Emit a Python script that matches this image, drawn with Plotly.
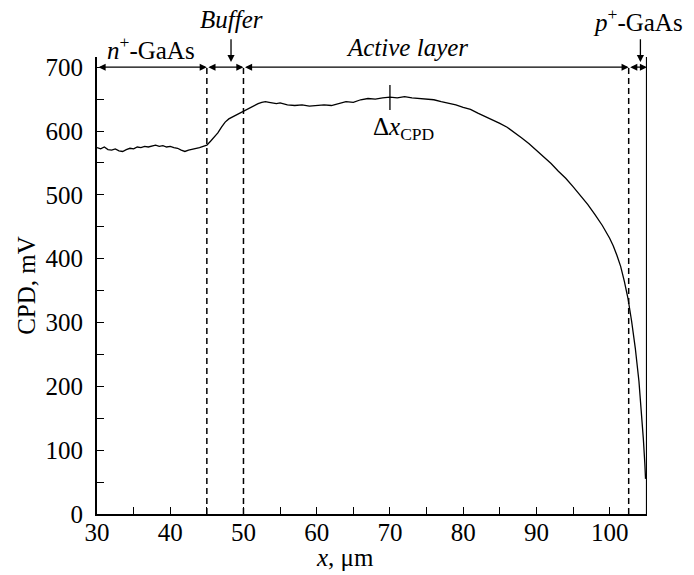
import plotly.graph_objects as go

# Data
x_um = [30.0, 30.5, 31.0, 31.5, 32.0, 32.5, 33.0, 33.5, 34.0, 34.5, 35.0, 35.5, 36.0, 36.5,
        37.0, 37.5, 38.0, 38.5, 39.0, 39.5, 40.0, 40.5, 41.0, 41.5, 42.0, 42.5, 43.0, 43.5,
        44.0, 44.5, 45.0, 45.5, 46.0, 46.5, 47.0, 47.5, 48.0, 48.5, 49.0, 49.5, 50.0, 50.5,
        51.0, 51.5, 52.0, 52.5, 53.0, 53.5, 54.0, 54.5, 55.0, 55.5, 56.0, 57.0, 58.0, 59.0,
        60.0, 61.0, 62.0, 63.0, 64.0, 65.0, 66.0, 67.0, 68.0, 69.0, 70.0, 71.0, 72.0, 73.0,
        74.0, 75.0, 76.0, 77.0, 78.0, 79.0, 80.0, 81.0, 82.0, 83.0, 84.0, 85.0, 86.0, 87.0,
        88.0, 89.0, 90.0, 91.0, 92.0, 93.0, 94.0, 95.0, 96.0, 97.0, 98.0, 99.0, 100.0, 100.5,
        101.0, 101.5, 102.0, 102.5, 103.0, 103.5, 104.0, 104.3, 104.6, 104.8, 104.9]
cpd_mv = [574, 572, 575, 571, 570, 572, 569, 568, 571, 573, 572, 575, 574, 576,
          575, 577, 578, 576, 577, 575, 576, 574, 573, 570, 568, 570, 571, 572,
          574, 576, 578, 584, 590, 597, 606, 614, 619, 622, 626, 628, 631, 634,
          638, 641, 643, 645, 646, 645, 644, 643, 644, 642, 641, 640, 641, 639,
          640, 641, 640, 643, 646, 645, 649, 651, 650, 652, 653, 652, 654, 652,
          651, 650, 649, 646, 644, 641, 637, 634, 628, 623, 618, 612, 606, 598,
          589, 580, 570, 560, 549, 537, 526, 513, 499, 485, 469, 452, 432, 420,
          405, 388, 365, 338, 302, 260, 208, 168, 118, 80, 55]

boundaries = [45, 50, 102.6]
x_end = 105.1
x_ticks = [30, 40, 50, 60, 70, 80, 90, 100]
y_ticks = [0, 100, 200, 300, 400, 500, 600, 700]

FONT = "Liberation Serif, Times New Roman, serif"
FS = 25

fig = go.Figure()
fig.add_trace(go.Scatter(x=x_um, y=cpd_mv, mode="lines",
                         line=dict(color="black", width=1.3), showlegend=False))

shapes = []
for b in boundaries:
    shapes.append(dict(type="line", xref="x", yref="y", x0=b, x1=b, y0=0, y1=700,
                       line=dict(color="black", width=1.5, dash="6px,4px")))
shapes.append(dict(type="line", xref="x", yref="y", x0=x_end, x1=x_end, y0=0, y1=716,
                   line=dict(color="black", width=2.2)))
# Delta x_CPD tick
shapes.append(dict(type="line", xref="x", yref="y", x0=70, x1=70, y0=633, y1=672,
                   line=dict(color="black", width=1.3)))

annotations = []
# double arrows at 700
segs = [(30, 45), (45, 50), (50, 102.6), (102.6, x_end)]
for a, b in segs:
    annotations.append(dict(x=b, y=700, ax=a, ay=700, xref="x", yref="y", axref="x", ayref="y",
                            text="", showarrow=True, arrowhead=2, arrowside="end+start",
                            arrowsize=1.1, arrowwidth=1.3, arrowcolor="black",
                            startstandoff=0, standoff=0))
# down arrows
for xa in [48.3, 104.2]:
    annotations.append(dict(x=xa, y=708, ax=xa, ay=746, xref="x", yref="y", axref="x", ayref="y",
                            text="", showarrow=True, arrowhead=2, arrowsize=1.1,
                            arrowwidth=1.3, arrowcolor="black"))

txt_font = dict(family=FONT, size=FS, color="black")
annotations += [
    dict(x=37.4, y=1.02, xref="x", yref="paper", text="<i>n</i><sup>+</sup>-GaAs",
         showarrow=False, font=txt_font, yanchor="middle"),
    dict(x=48.3, y=1.081, xref="x", yref="paper", text="<i>Buffer</i>",
         showarrow=False, font=txt_font, yanchor="middle"),
    dict(x=72.3, y=1.02, xref="x", yref="paper", text="<i>Active layer</i>",
         showarrow=False, font=txt_font, yanchor="middle"),
    dict(x=103.9, y=1.081, xref="x", yref="paper", text="<i>p</i><sup>+</sup>-GaAs",
         showarrow=False, font=txt_font, yanchor="middle"),
    dict(x=71.9, y=604, xref="x", yref="y", text="Δ<i>x</i><sub>CPD</sub>",
         showarrow=False, font=txt_font),
    # x-axis title
    dict(x=63.9, y=-0.095, xref="x", yref="paper", text="<i>x</i>, μm",
         showarrow=False, font=txt_font, yanchor="middle"),
]

fig.update_layout(
    width=694, height=575,
    margin=dict(l=89, r=55, t=49, b=69),
    plot_bgcolor="white", paper_bgcolor="white",
    font=dict(family=FONT, size=FS, color="black"),
    shapes=shapes, annotations=annotations,
    xaxis=dict(range=[30, x_end], tickvals=x_ticks, ticks="inside", ticklen=7, tickwidth=1.3,
               tickcolor="black", showline=True, linecolor="black", linewidth=2,
               showgrid=False, zeroline=False, automargin=False, ticklabelstandoff=-5,
               minor=dict(dtick=5, tick0=0, ticks="inside", ticklen=7, tickwidth=1.3, tickcolor="black"),
               tickfont=dict(family=FONT, size=FS)),
    yaxis=dict(range=[0, 716], tickvals=y_ticks, ticks="inside", ticklen=7, tickwidth=1.3,
               tickcolor="black", showline=True, linecolor="black", linewidth=2,
               showgrid=False, zeroline=False, automargin=False, ticklabelstandoff=7,
               minor=dict(dtick=50, tick0=0, ticks="inside", ticklen=7, tickwidth=1.3, tickcolor="black"),
               title=dict(text="CPD, mV", font=dict(family=FONT, size=FS), standoff=3),
               tickfont=dict(family=FONT, size=FS)),
)

fig.write_html("out.html")
